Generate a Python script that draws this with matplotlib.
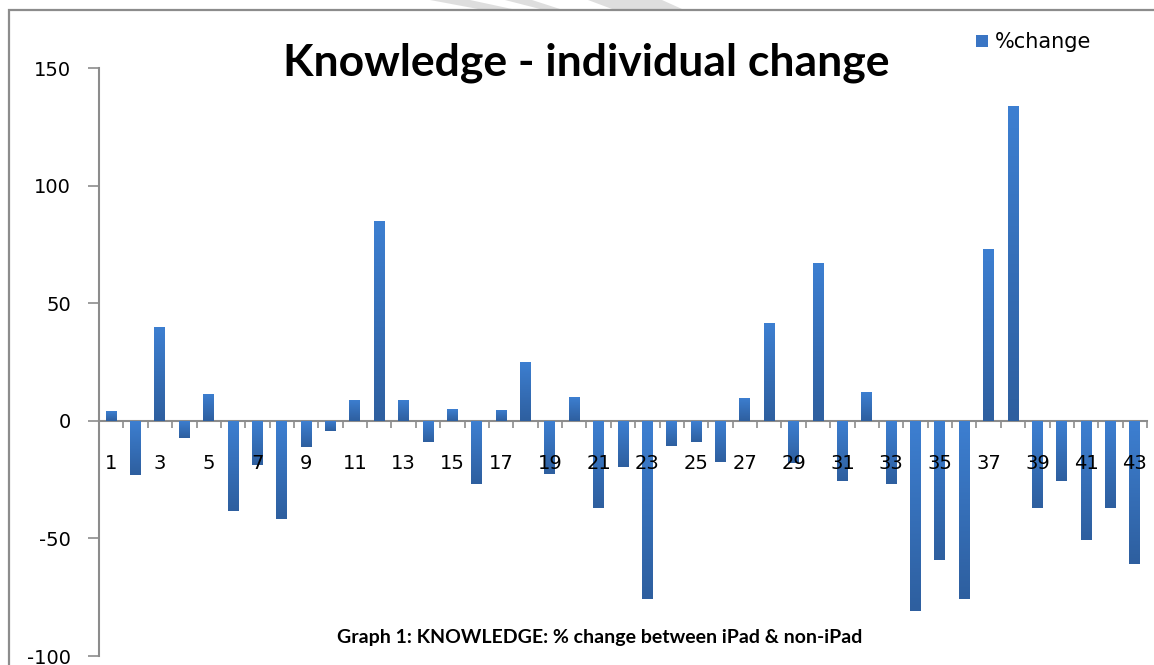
import numpy as np
import matplotlib
matplotlib.use("Agg")
import matplotlib.pyplot as plt
from matplotlib.patches import Rectangle, Polygon
from matplotlib.colors import LinearSegmentedColormap

plt.rcParams["axes.unicode_minus"] = False

# datos
participantes = list(range(1, 44))
cambio = [4, -23, 40, -7.5, 11.6, -38.4, -18.8, -41.6, -11, -4.5,
          9, 85, 9, -8.8, 5.1, -26.7, 4.7, 25.1, -22.7, 10.2,
          -36.9, -19.5, -75.7, -10.5, -8.8, -17.3, 9.8, 41.8, -18, 67.3,
          -25.6, 12.3, -26.7, -81, -59, -75.7, 72.9, 133.8, -36.9, -25.6,
          -50.6, -36.9, -60.8]
etiquetas_x = [str(p) for p in participantes if p % 2 == 1]
ticks_y = [-100, -50, 0, 50, 100, 150]

titulo = "Knowledge - individual change"
leyenda = "%change"
pie = "Graph 1: KNOWLEDGE: % change between iPad & non-iPad"

fig = plt.figure(figsize=(11.54, 6.65), dpi=100)
ax = fig.add_axes([0.0858, 0.0135, 0.9082, 0.8842])

barras = ax.bar(participantes, cambio, width=0.45, color="#3a75c4", zorder=3,
                label=leyenda)

# degradado vertical dentro de cada barra
degradado = LinearSegmentedColormap.from_list("azul", ["#2e5f9f", "#3d7fd1"])
grad = np.linspace(0, 1, 100).reshape(-1, 1)
for b in barras:
    x0, y0 = b.get_x(), b.get_y()
    w, h = b.get_width(), b.get_height()
    lo, hi = min(y0, y0 + h), max(y0, y0 + h)
    im = ax.imshow(grad, cmap=degradado, aspect="auto", origin="lower",
                   extent=[x0, x0 + w, lo, hi], zorder=4)
    im.set_clip_path(b)

ax.set_xlim(0.5, 43.5)
ax.set_ylim(-100, 150)

for lado in ["top", "right"]:
    ax.spines[lado].set_visible(False)
ax.spines["bottom"].set_position(("data", 0))
ax.spines["bottom"].set_color("#8c8c8c")
ax.spines["bottom"].set_linewidth(1.5)
ax.spines["bottom"].set_zorder(2)
ax.spines["left"].set_color("#8c8c8c")
ax.spines["left"].set_linewidth(1.5)

ax.set_yticks(ticks_y)
ax.tick_params(axis="y", length=8, width=1.2, color="#8c8c8c", pad=12,
               labelsize=14)

ax.set_xticks([p for p in participantes if p % 2 == 1])
ax.set_xticklabels(etiquetas_x)
ax.set_xticks(np.arange(1.5, 44, 1), minor=True)
ax.tick_params(axis="x", which="major", length=0, pad=24, labelsize=14)
ax.tick_params(axis="x", which="minor", length=5, width=1.2, color="#8c8c8c",
               direction="out")
ax.xaxis.set_zorder(5)

ax.set_facecolor("none")

# titulo y pie
fig.text(0.508, 0.905, titulo, ha="center", va="center", fontsize=32,
         fontweight="bold", family="Lato")
fig.text(0.52, 0.042, pie, ha="center", va="center", fontsize=14,
         fontweight="bold", family="Lato")

ax.legend(loc="center left", bbox_to_anchor=(0.837, 1.044), frameon=False,
          fontsize=15, handlelength=0.55, handleheight=0.55, handletextpad=0.35,
          borderaxespad=0, borderpad=0)

# marco del grafico
fig.add_artist(Rectangle((9 / 1154, -0.05), 1.2, 1 - 10 / 665 + 0.05,
                         transform=fig.transFigure, fill=False,
                         edgecolor="#8c8c8c", linewidth=1.6))

# restos de marca de agua arriba
for pts in [[(430, 0), (470, 0), (512, 9), (478, 9)],
            [(505, 0), (532, 0), (560, 9), (540, 9)],
            [(588, 0), (662, 0), (682, 9), (612, 9)]]:
    fig.add_artist(Polygon([(x / 1154, 1 - y / 665) for x, y in pts],
                           closed=True, transform=fig.transFigure,
                           facecolor="#dedede", edgecolor="none", zorder=0))

fig.savefig("out.png", dpi=100)
